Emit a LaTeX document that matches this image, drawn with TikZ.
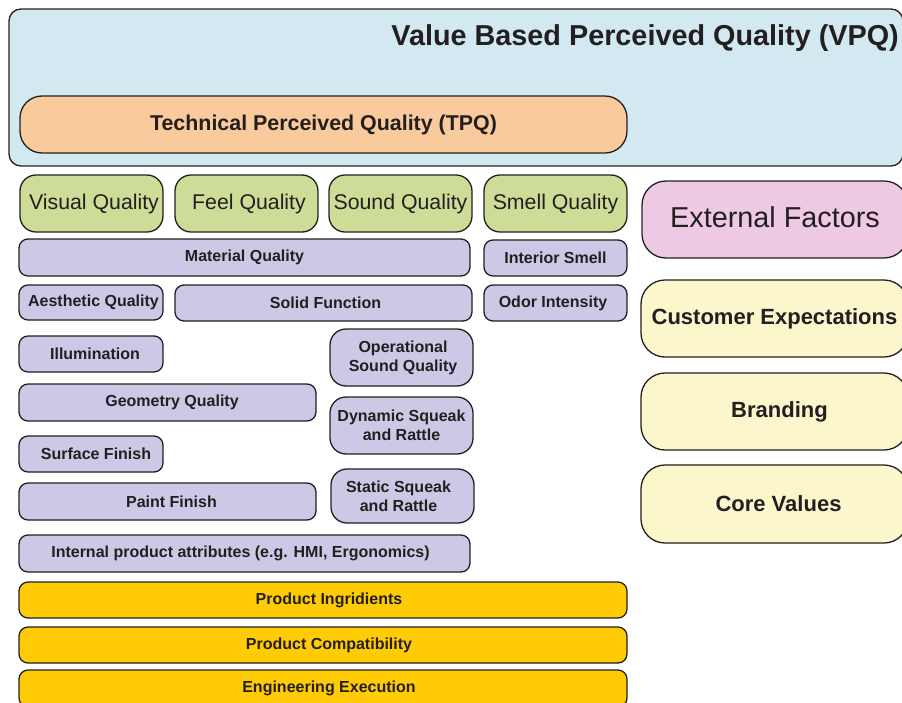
\documentclass[tikz,border=0pt]{standalone}
\usepackage{fontspec}
\setmainfont{Liberation Sans}
\definecolor{vpqblue}{HTML}{D2E9F1}
\definecolor{tpqorange}{HTML}{F9CB9C}
\definecolor{qgreen}{HTML}{CDDC96}
\definecolor{extpink}{HTML}{EDC9E3}
\definecolor{attrpurple}{HTML}{CBC9E5}
\definecolor{baseyellow}{HTML}{FFCB05}
\definecolor{cream}{HTML}{FBF6CB}
\definecolor{ink}{HTML}{231F20}
\tikzset{
  base/.style={draw=ink, line width=1.3pt, text=ink, inner sep=0pt, align=center},
  vpqbox/.style={base, fill=vpqblue, rounded corners=12pt},
  tpqbox/.style={base, fill=tpqorange, rounded corners=22pt, font=\fontsize{21.4}{25}\selectfont\bfseries},
  senses/.style={base, fill=qgreen, rounded corners=16pt, font=\fontsize{21.3}{25}\selectfont},
  extbox/.style={base, fill=extpink, rounded corners=24pt, font=\fontsize{28.8}{33}\selectfont},
  attr/.style={base, fill=attrpurple, rounded corners=9pt, font=\fontsize{16}{19}\selectfont\bfseries},
  attrtall/.style={attr, rounded corners=16pt},
  found/.style={base, fill=baseyellow, rounded corners=9pt, font=\fontsize{16}{19}\selectfont\bfseries},
  ext/.style={base, fill=cream, rounded corners=24pt, font=\fontsize{22}{26}\selectfont\bfseries},
  title/.style={text=ink, inner sep=0pt, font=\fontsize{28.8}{33}\selectfont\bfseries}
}
\begin{document}
\begin{tikzpicture}[x=1pt,y=-1pt]
\useasboundingbox (0,0) rectangle (902,702);
% VPQ container
\node[vpqbox, minimum width=894pt, minimum height=157pt] (vpq) at (456,87.5) {};
\node[title, anchor=east] (vpqtitle) at (899,38.5) {Value Based Perceived Quality (VPQ)};
\node[tpqbox, minimum width=607pt, minimum height=57pt] (tpq) at (323.5,124.5) {\raisebox{4pt}{Technical Perceived Quality (TPQ)}};
% senses
\node[senses, minimum width=143pt, minimum height=57pt] (visual) at (91.5,203.5) {\kern5pt Visual Quality};
\node[senses, minimum width=143pt, minimum height=57pt] (feel) at (246.5,203.5) {\kern5pt Feel Quality};
\node[senses, minimum width=143pt, minimum height=57pt] (sound) at (400.5,203.5) {Sound Quality};
\node[senses, minimum width=143pt, minimum height=57pt] (smell) at (555.5,203.5) {Smell Quality};
% external
\node[extbox, minimum width=266pt, minimum height=77pt] (external) at (775,219.5) {\raisebox{4pt}{External Factors}};
\node[ext, minimum width=267pt, minimum height=77pt] (customer) at (774.5,318.5) {Customer Expectations};
\node[ext, minimum width=267pt, minimum height=77pt] (branding) at (774.5,411.5) {\kern10pt Branding};
\node[ext, minimum width=267pt, minimum height=78pt] (core) at (774.5,504) {\kern8pt Core Values};
% attributes
\node[attr, minimum width=451pt, minimum height=37pt] (material) at (244.5,257.5) {Material Quality};
\node[attr, minimum width=143pt, minimum height=36pt] (interior) at (555.5,258) {Interior Smell};
\node[attr, minimum width=144pt, minimum height=35pt] (aesthetic) at (91,302.5) {\kern5pt Aesthetic Quality};
\node[attr, minimum width=297pt, minimum height=36pt] (solid) at (323.5,303) {\kern4pt Solid Function};
\node[attr, minimum width=143pt, minimum height=36pt] (odor) at (555.5,303) {Odor Intensity\kern5pt};
\node[attr, minimum width=144pt, minimum height=36pt] (illum) at (91,354) {\kern8pt Illumination};
\node[attrtall, minimum width=143pt, minimum height=57pt] (operational) at (401.5,357.5) {\kern3pt Operational\\\kern3pt Sound Quality};
\node[attr, minimum width=297pt, minimum height=37pt] (geometry) at (167.5,402.5) {\kern9pt Geometry Quality};
\node[attrtall, minimum width=143pt, minimum height=57pt] (dynamic) at (401.5,425.5) {Dynamic Squeak\\and Rattle};
\node[attr, minimum width=144pt, minimum height=36pt] (surface) at (91,454) {\kern10pt Surface Finish};
\node[attr, minimum width=297pt, minimum height=37pt] (paint) at (167.5,501.5) {\kern8pt Paint Finish};
\node[attrtall, minimum width=143pt, minimum height=54pt] (static) at (402.5,496) {Static Squeak\kern8pt\\and Rattle\kern8pt};
\node[attr, minimum width=451pt, minimum height=37pt] (internal) at (244.5,553.5) {Internal product attributes (e.g. HMI, Ergonomics)\kern8pt};
% foundation
\node[found, minimum width=608pt, minimum height=36pt] (ingr) at (323,600) {\raisebox{2pt}{\kern12pt Product Ingridients}};
\node[found, minimum width=608pt, minimum height=36pt] (compat) at (323,645) {\kern12pt Product Compatibility};
\node[found, minimum width=608pt, minimum height=37pt] (engin) at (323,688.5) {\kern12pt Engineering Execution};
\end{tikzpicture}
\end{document}
